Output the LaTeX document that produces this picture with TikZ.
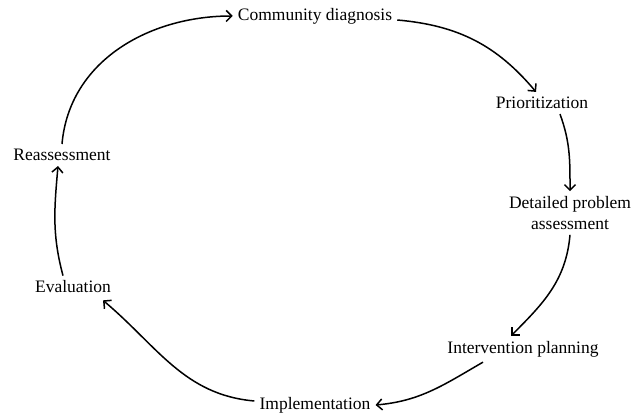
\documentclass[tikz,border=0pt]{standalone}
\usepackage{fontspec}
\setmainfont{Liberation Serif}
\usetikzlibrary{arrows.meta}
\begin{document}
\begin{tikzpicture}
    [x=1pt,y=1pt,
     every node/.style={font=\fontsize{17.5}{21}\selectfont, inner sep=5pt, align=center},
     cyc/.style={-{Straight Barb[length=5.5pt,width=11pt]}, line width=1.5pt}]
    \useasboundingbox (0,0) rectangle (643,415);
    \node (diag)   at (315,399) {Community diagnosis};
    \node (prior)  at (542,312) {Prioritization};
    \node (detail) at (570,202) {Detailed problem\\assessment};
    \node (interv) at (523,66)  {Intervention planning};
    \node (impl)   at (315,10)  {Implementation};
    \node (eval)   at (73,128)  {Evaluation};
    \node (reass)  at (62,260)  {Reassessment};
    \draw[cyc] (reass.north) to[out=85,in=180] (diag.west);
    \draw[cyc] ([yshift=-4pt]diag.east) to[out=-5,in=130] ([xshift=-6pt]prior.north);
    \draw[cyc] ([xshift=18pt]prior.south) to[out=-70,in=90] (detail.north);
    \draw[cyc] (detail.south) to[out=-95,in=45] ([xshift=-12pt]interv.north);
    \draw[cyc] ([xshift=-40pt]interv.south) to[out=-150,in=5] (impl.east);
    \draw[cyc] ([yshift=4pt]impl.west) to[out=175,in=-40] ([xshift=30pt,yshift=-2pt]eval.south);
    \draw[cyc] ([xshift=-10pt]eval.north) to[out=105,in=-95] ([xshift=-4pt]reass.south);
\end{tikzpicture}
\end{document}
